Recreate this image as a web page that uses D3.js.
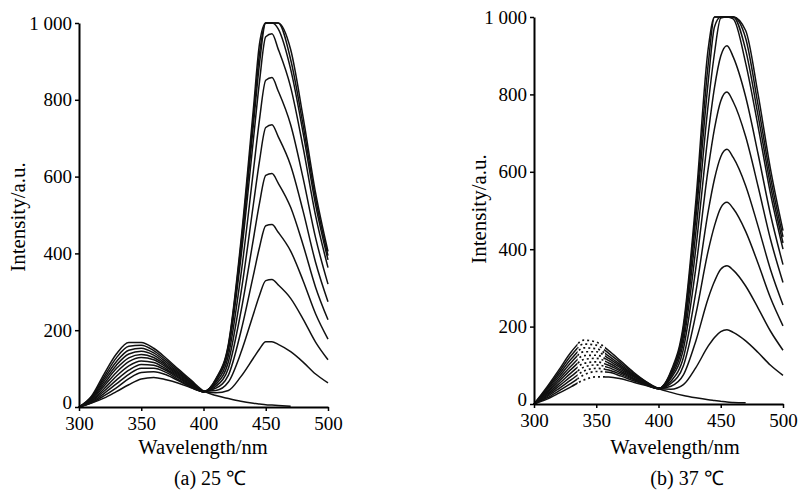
<!DOCTYPE html>
<html>
<head>
<meta charset="utf-8">
<script src="https://cdn.jsdelivr.net/npm/d3@7/dist/d3.min.js"></script>
<style>
  html, body { margin: 0; padding: 0; background: #fff; }
</style>
</head>
<body>
<svg id="chart" width="801" height="490"></svg>
<script>
// ---- data ----
const wavelengths = [300,310,320,330,340,350,360,370,380,390,400,410,420,430,440,445,450,455,460,470,480,490,500];
const xTicks = [300, 350, 400, 450, 500];
const yTicks = [0, 200, 400, 600, 800, 1000];
const yTickLabels = ["0", "200", "400", "600", "800", "1 000"];

// (a) 25 °C spectra
const curves25 = [
  [0,28,85,138,168,168,153,127,98,70,42, 30,22,15,10,8,6,5,4,2, null,null,null],
  [0,26,78,128,158,161,147,122,94,67,41, 37,43,79,127,151,170,170,163,144,117,86,63],
  [0,24,72,118,148,153,141,117,90,65,41, 43,65,141,241,291,329,332,318,283,229,169,123],
  [0,22,66,109,138,145,135,112,87,63,40, 49,83,196,342,416,472,475,455,406,329,243,177],
  [0,20,60,100,128,137,129,108,84,61,40, 54,101,247,436,531,603,608,583,520,422,312,227],
  [0,18,54,90,118,129,123,104,81,59,40, 59,118,295,526,641,728,735,704,629,510,377,274],
  [0,16,47,80,107,120,116,99,78,57,40, 64,134,343,613,749,851,858,823,735,596,441,320],
  [0,15,41,70,96,111,109,95,75,55,40, 69,149,387,694,848,964,972,932,833,676,499,363],
  [0,13,35,60,85,101,101,90,71,53,40, 71,156,407,732,895,1000,1000,985,880,714,527,383],
  [0,11,29,50,74,90,92,84,68,51,40, 72,160,419,753,921,1000,1000,1000,905,734,543,394],
  [0,10,23,40,58,73,77,71,62,50,40, 74,164,430,774,946,1000,1000,1000,931,755,558,405]
];

// (b) 37 °C spectra
const curves37 = [
  [0,42,88,135,165,160,138,110,82,58,40, 30,22,16,11,9,7,5,4,3, null,null,null],
  [0,39,82,126,155,152,131,105,79,57,40, 38,50,94,150,172,187,192,185,163,133,100,74],
  [0,36,76,117,145,143,124,100,76,56,40, 46,75,163,274,317,348,357,346,305,248,188,139],
  [0,33,70,108,135,135,118,96,74,55,40, 53,99,232,397,461,507,521,505,446,363,274,202],
  [0,30,64,99,125,126,112,92,72,54,40, 59,120,289,499,582,639,658,637,564,459,347,256],
  [0,27,58,90,115,118,106,88,70,53,40, 66,142,352,610,712,783,806,781,691,562,425,314],
  [0,24,52,81,105,109,100,84,67,52,40, 71,160,402,700,818,899,926,897,794,646,489,360],
  [0,21,46,72,95,101,94,80,65,51,40, 76,175,444,776,907,997,1000,995,881,717,543,400],
  [0,18,40,63,85,92,88,76,63,50,40, 80,188,480,835,975,1000,1000,1000,915,745,564,416],
  [0,15,34,54,75,84,82,72,60,49,40, 82,196,502,880,1000,1000,1000,1000,945,772,585,432],
  [0,12,28,45,62,70,70,65,56,48,40, 85,205,525,920,1000,1000,1000,1000,965,800,606,448]
];

// ---- layout ----
const FONT = "'Liberation Serif', 'Times New Roman', Times, serif";
const panels = [
  { id: "a", curves: curves25, xr: [79, 328], yr: [407, 23], caption: "(a) 25 \u2103",
    titleX: 203, capX: 210, ylabX: 25, ylabY: 217, gap: null },
  { id: "b", curves: curves37, xr: [534, 783], yr: [404, 17], caption: "(b) 37 \u2103",
    titleX: 675, capX: 687, ylabX: 486, ylabY: 209, gap: [335, 357] }
];

const svg = d3.select("#chart");
const defs = svg.append("defs");

panels.forEach(p => {
  const x = d3.scaleLinear().domain([300, 500]).range(p.xr);
  const y = d3.scaleLinear().domain([0, 1000]).range(p.yr);
  const g = svg.append("g");

  const line = d3.line()
    .defined(d => d[1] !== null)
    .x(d => x(d[0]))
    .y(d => y(d[1]))
    .curve(d3.curveMonotoneX);

  const pts = c => wavelengths.map((w, i) => [w, c[i]]);

  if (p.gap) {
    const cs = defs.append("clipPath").attr("id", "solid-" + p.id);
    cs.append("rect").attr("x", 0).attr("y", 0).attr("width", x(p.gap[0])).attr("height", 490);
    cs.append("rect").attr("x", x(p.gap[1])).attr("y", 0).attr("width", 801 - x(p.gap[1])).attr("height", 490);
    const cd = defs.append("clipPath").attr("id", "dash-" + p.id);
    cd.append("rect").attr("x", x(p.gap[0])).attr("y", 0).attr("width", x(p.gap[1]) - x(p.gap[0])).attr("height", 490);
  }

  const lg = g.append("g");
  p.curves.forEach(c => {
    const path = lg.append("path")
      .attr("d", line(pts(c)))
      .attr("fill", "none")
      .attr("stroke", "#111")
      .attr("stroke-width", 1.5)
      .attr("stroke-linejoin", "round");
    if (p.gap) {
      path.attr("clip-path", "url(#solid-" + p.id + ")");
      lg.append("path")
        .attr("d", line(pts(c)))
        .attr("fill", "none")
        .attr("stroke", "#111")
        .attr("stroke-width", 1.7)
        .attr("stroke-dasharray", "2,3")
        .attr("clip-path", "url(#dash-" + p.id + ")");
    }
  });

  // axes
  const xa = g.append("g")
    .attr("transform", `translate(0,${p.yr[0]})`)
    .call(d3.axisBottom(x).tickValues(xTicks).tickSize(4).tickSizeOuter(0).tickPadding(6));
  const ya = g.append("g")
    .attr("transform", `translate(${p.xr[0]},0)`)
    .call(d3.axisLeft(y).tickValues(yTicks).tickFormat((d, i) => yTickLabels[i])
      .tickSize(4).tickSizeOuter(0).tickPadding(3));
  [xa, ya].forEach(a => {
    a.attr("font-family", null).attr("font-size", null);
    a.select(".domain").attr("stroke", "#000").attr("stroke-width", 2);
    a.selectAll(".tick line").attr("stroke", "#000").attr("stroke-width", 1.5);
    a.selectAll(".tick text")
      .style("font-family", FONT)
      .style("font-size", "19px")
      .attr("fill", "#000");
  });
  // lift the "0" label slightly so it clears the "300" label
  ya.selectAll(".tick text").filter(d => d === 0).attr("dy", "0.1em");

  g.append("text")
    .attr("x", p.titleX).attr("y", 454)
    .attr("text-anchor", "middle")
    .style("font-family", FONT)
    .style("font-size", "20.5px")
    .text("Wavelength/nm");

  g.append("text")
    .attr("transform", `translate(${p.ylabX},${p.ylabY}) rotate(-90)`)
    .attr("text-anchor", "middle")
    .style("font-family", FONT)
    .style("font-size", "21px")
    .text("Intensity/a.u.");

  g.append("text")
    .attr("x", p.capX).attr("y", 485)
    .attr("text-anchor", "middle")
    .style("font-family", FONT)
    .style("font-size", "20px")
    .text(p.caption);
});
</script>
</body>
</html>
